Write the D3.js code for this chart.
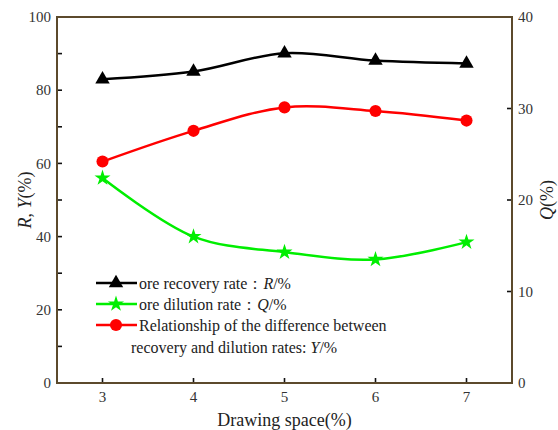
<!DOCTYPE html>
<html>
<head>
<meta charset="utf-8">
<script src="https://cdn.jsdelivr.net/npm/d3@7"></script>
<style>
  html, body { margin: 0; padding: 0; background: #fff; }
  svg { display: block; }
</style>
</head>
<body>
<svg id="chart" width="558" height="430"></svg>
<script>
// Drawing space (%) on the x axis
const spacing = [3, 4, 5, 6, 7];
// Ore recovery rate R (%) — left axis
const recovery = [83.0, 85.1, 90.1, 88.1, 87.3];
// Recovery/dilution difference Y (%) — left axis
const difference = [60.5, 68.9, 75.3, 74.3, 71.7];
// Ore dilution rate Q (%) — right axis
const dilution = [22.4, 16.0, 14.3, 13.5, 15.4];

const leftTickLabels = [0, 20, 40, 60, 80, 100];
const leftMinorTicks = [10, 30, 50, 70, 90];
const rightTickLabels = [0, 10, 20, 30, 40];

const serif = '"Liberation Serif", "Times New Roman", serif';
const svg = d3.select("#chart");
const plotLeft = 57, plotRight = 512, plotTop = 17, plotBottom = 383;
const axisColor = "#5c4a2c";

const x = d3.scaleLinear().domain([2.5, 7.5]).range([plotLeft, plotRight]);
const yL = d3.scaleLinear().domain([0, 100]).range([plotBottom, plotTop]);
const yR = d3.scaleLinear().domain([0, 40]).range([plotBottom, plotTop]);

// ticks (inward)
const tickG = svg.append("g").attr("stroke", "#111").attr("stroke-width", 1.6);
tickG.selectAll(".tl").data(leftTickLabels.concat(leftMinorTicks)).join("line")
  .attr("x1", plotLeft).attr("x2", plotLeft + 5)
  .attr("y1", d => yL(d)).attr("y2", d => yL(d));
tickG.selectAll(".tr").data(rightTickLabels.slice(1, -1)).join("line")
  .attr("x1", plotRight).attr("x2", plotRight - 5)
  .attr("y1", d => yR(d)).attr("y2", d => yR(d));
tickG.selectAll(".tx").data(spacing).join("line")
  .attr("x1", d => x(d)).attr("x2", d => x(d))
  .attr("y1", plotBottom).attr("y2", plotBottom - 5);

// frame
svg.append("rect")
  .attr("x", plotLeft).attr("y", plotTop)
  .attr("width", plotRight - plotLeft).attr("height", plotBottom - plotTop)
  .attr("fill", "none").attr("stroke", axisColor).attr("stroke-width", 2);

// tick labels
const labelColor = "#333";
svg.append("g").selectAll("text").data(leftTickLabels).join("text")
  .style("font-family", serif)
  .attr("x", plotLeft - 6).attr("y", d => yL(d)).attr("dy", "0.35em")
  .attr("text-anchor", "end").attr("font-size", 15).attr("fill", labelColor)
  .text(d => d);
svg.append("g").selectAll("text").data(rightTickLabels).join("text")
  .style("font-family", serif)
  .attr("x", plotRight + 6).attr("y", d => yR(d)).attr("dy", "0.35em")
  .attr("text-anchor", "start").attr("font-size", 15).attr("fill", labelColor)
  .text(d => d);
svg.append("g").selectAll("text").data(spacing).join("text")
  .style("font-family", serif)
  .attr("x", d => x(d)).attr("y", plotBottom + 19)
  .attr("text-anchor", "middle").attr("font-size", 15).attr("fill", labelColor)
  .text(d => d);

// axis titles
svg.append("text")
  .style("font-family", serif)
  .attr("x", x(5)).attr("y", 426)
  .attr("text-anchor", "middle").attr("font-size", 18).attr("fill", "#222")
  .text("Drawing space(%)");

const lt = svg.append("text")
  .style("font-family", serif)
  .attr("transform", `translate(31,${yL(50)}) rotate(-90)`)
  .attr("text-anchor", "middle").attr("font-size", 18).attr("fill", "#222");
lt.append("tspan").attr("font-style", "italic").text("R");
lt.append("tspan").text(", ");
lt.append("tspan").attr("font-style", "italic").text("Y");
lt.append("tspan").text("(%)");

const rt = svg.append("text")
  .style("font-family", serif)
  .attr("transform", `translate(553,${yR(20)}) rotate(-90)`)
  .attr("text-anchor", "middle").attr("font-size", 18).attr("fill", "#222");
rt.append("tspan").attr("font-style", "italic").text("Q");
rt.append("tspan").text("(%)");

// series
const curve = d3.curveCatmullRom.alpha(0.5);
const series = [
  { values: recovery, scale: yL, color: "#000", marker: d3.symbolTriangle, size: 90 },
  { values: dilution, scale: yR, color: "#00ee00", marker: d3.symbolStar, size: 80 },
  { values: difference, scale: yL, color: "#ff0000", marker: d3.symbolCircle, size: 115 }
];

series.forEach(s => {
  const pts = spacing.map((v, i) => [v, s.values[i]]);
  svg.append("path")
    .attr("d", d3.line().x(d => x(d[0])).y(d => s.scale(d[1])).curve(curve)(pts))
    .attr("fill", "none").attr("stroke", s.color).attr("stroke-width", 2.5);
  svg.append("g").selectAll("path").data(pts).join("path")
    .attr("transform", d => `translate(${x(d[0])},${s.scale(d[1])})`)
    .attr("d", d3.symbol().type(s.marker).size(s.size))
    .attr("fill", s.color);
});

// legend
const legendRows = [
  { color: "#000", marker: d3.symbolTriangle, size: 90, y: 283, parts: [["ore recovery rate：", false], ["R", true], ["/%", false]] },
  { color: "#00ee00", marker: d3.symbolStar, size: 80, y: 304, parts: [["ore dilution rate：", false], ["Q", true], ["/%", false]] },
  { color: "#ff0000", marker: d3.symbolCircle, size: 115, y: 325, parts: [["Relationship of the difference between", false]] }
];
const lg = svg.append("g");
legendRows.forEach(r => {
  lg.append("line").attr("x1", 96).attr("x2", 137).attr("y1", r.y).attr("y2", r.y)
    .attr("stroke", r.color).attr("stroke-width", 2.5);
  lg.append("path").attr("transform", `translate(116,${r.y})`)
    .attr("d", d3.symbol().type(r.marker).size(r.size)).attr("fill", r.color);
  const t = lg.append("text").style("font-family", serif)
    .attr("x", 139).attr("y", r.y).attr("dy", "0.35em")
    .attr("font-size", 16).attr("fill", "#222");
  r.parts.forEach(p => t.append("tspan").attr("font-style", p[1] ? "italic" : null).text(p[0]));
});
const l2 = lg.append("text").style("font-family", serif)
  .attr("x", 131).attr("y", 347).attr("dy", "0.35em")
  .attr("font-size", 16).attr("fill", "#222");
l2.append("tspan").text("recovery and dilution rates: ");
l2.append("tspan").attr("font-style", "italic").text("Y");
l2.append("tspan").text("/%");
</script>
</body>
</html>
